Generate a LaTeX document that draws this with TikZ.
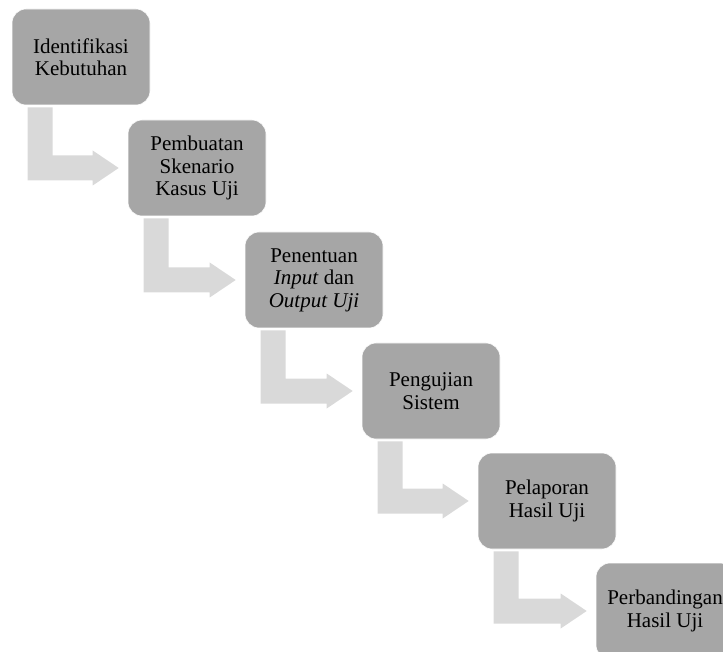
\documentclass[tikz,border=0pt]{standalone}
\usepackage{fontspec}
\setmainfont{Liberation Serif}
\usetikzlibrary{calc}
\definecolor{boxgray}{RGB}{166,166,166}
\definecolor{arrowgray}{RGB}{217,217,217}
\tikzset{
  stepbox/.style={draw=white, line width=0.6pt, fill=boxgray, rounded corners=14pt, rectangle,
    minimum width=138pt, minimum height=96pt, inner sep=2pt, align=center,
    font=\fontsize{21}{22.5}\selectfont},
  bentarr/.style={fill=arrowgray},
}
\begin{document}
\begin{tikzpicture}[x=1pt, y=-1pt]
\clip (0,0) rectangle (723,652);
\useasboundingbox (0,0) rectangle (723,652);

\node[stepbox] (ident) at (81,57) {Identifikasi\\Kebutuhan};
\node[stepbox] (skenario) at (197,168) {Pembuatan\\Skenario\\Kasus Uji};
\node[stepbox] (inout) at (314,280) {Penentuan\\\textit{Input} dan\\\textit{Output Uji}};
\node[stepbox] (uji) at (431,391) {Pengujian\\Sistem};
\node[stepbox] (lapor) at (547,501) {Pelaporan\\Hasil Uji};
\node[stepbox] (banding) at (665,611) {Perbandingan\\Hasil Uji};

% bent arrows between the steps
\foreach \a/\b in {ident/skenario, skenario/inout, inout/uji, uji/lapor, lapor/banding} {
  \fill[bentarr] ($(\a.south west)+(16,2)$) coordinate (p) -- ++(25,0)
    |- ($(\b.west)+(-35,-12.5)$) -- ++(0,-5) -- ($(\b.west)+(-9,0)$)
    -- ($(\b.west)+(-35,17.5)$) -- ++(0,-5) -| (p) -- cycle;
}

\end{tikzpicture}
\end{document}
